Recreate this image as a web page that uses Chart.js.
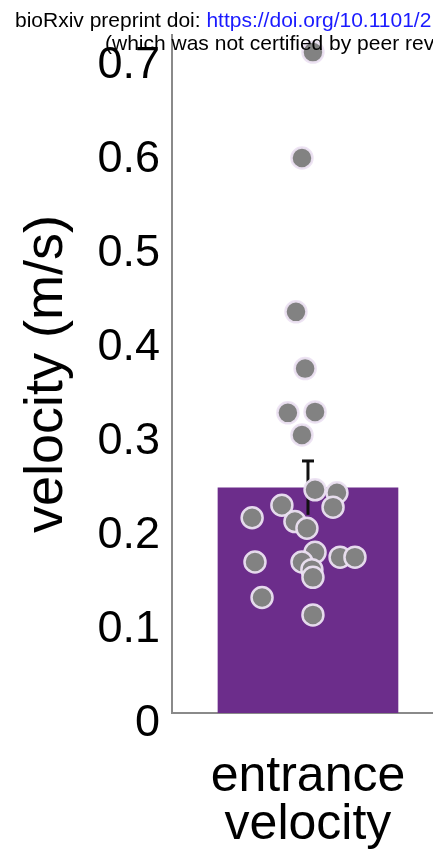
<!DOCTYPE html>
<html>
<head>
<meta charset="utf-8">
<script src="https://cdn.jsdelivr.net/npm/chart.js@4/dist/chart.umd.min.js"></script>
<style>
  html, body { margin: 0; padding: 0; background: #fff; overflow: hidden; }
  #wrap { position: relative; width: 433px; height: 853px; overflow: hidden; }
  .hdr { position: absolute; white-space: nowrap; font: 21px 'Liberation Sans', Arial, sans-serif; line-height: 21px; color: #000; z-index: 2; }
</style>
</head>
<body>
<div id="wrap">
  <canvas id="chart" width="433" height="853"></canvas>
  <div class="hdr" style="left:15px; top:9px;">bioRxiv preprint doi: <span style="color:#1a1aff">https://doi.org/10.1101/2</span></div>
  <div class="hdr" style="left:105px; top:32px;">(which was not certified by peer rev</div>
</div>
<script>
'use strict';

// ── Data ────────────────────────────────────────────────────────────────────
const CATEGORIES = [['entrance', 'velocity']];
const BAR_X      = [0.521];
const BAR_MEAN   = [0.234];
const BAR_SEM    = [0.028];

const DOT_X = [0.540, 0.498, 0.475, 0.510, 0.444, 0.548, 0.498, 0.548, 0.632, 0.617,
               0.421, 0.307, 0.471, 0.517, 0.548, 0.644, 0.701, 0.318, 0.498, 0.536,
               0.540, 0.345, 0.540];
const DOT_Y = [0.687, 0.577, 0.417, 0.358, 0.312, 0.313, 0.289, 0.232, 0.229, 0.214,
               0.216, 0.203, 0.199, 0.192, 0.167, 0.162, 0.162, 0.157, 0.157, 0.149,
               0.141, 0.120, 0.102];

const Y_TICKS = [0, 0.1, 0.2, 0.3, 0.4, 0.5, 0.6, 0.7];

const COLORS = {
  bar:     '#6c2d8b',
  dot:     '#828282',
  dotEdge: 'rgba(236,226,242,0.95)',
  err:     '#111111',
  axis:    '#8a8a8a',
  text:    '#000000',
};

const FONT = "'Liberation Sans', Arial, sans-serif";
Chart.defaults.font.family = FONT;
Chart.defaults.color = COLORS.text;

const CAP = 0.023;  // half cap width in x units

const dots = DOT_X.map((x, i) => ({ x, y: DOT_Y[i] }));
const bars = BAR_X.map((x, i) => ({ x, y: BAR_MEAN[i] }));
const errLine = [];
const errCap = [];
BAR_X.forEach((x, i) => {
  errLine.push({ x, y: BAR_MEAN[i] - BAR_SEM[i] }, { x, y: BAR_MEAN[i] + BAR_SEM[i] });
  errCap.push({ x: x - CAP, y: BAR_MEAN[i] + BAR_SEM[i] }, { x: x + CAP, y: BAR_MEAN[i] + BAR_SEM[i] });
});

new Chart(document.getElementById('chart').getContext('2d'), {
  type: 'bar',
  data: {
    datasets: [
      {
        type: 'scatter', data: dots, xAxisID: 'x', yAxisID: 'y', order: 1,
        pointRadius: 10.5, pointBackgroundColor: COLORS.dot,
        pointBorderColor: COLORS.dotEdge, pointBorderWidth: 2.5,
        clip: false,
      },
      {
        type: 'line', data: errLine, xAxisID: 'x', yAxisID: 'y', order: 2,
        borderColor: COLORS.err, borderWidth: 3, pointRadius: 0, fill: false,
      },
      {
        type: 'line', data: errCap, xAxisID: 'x', yAxisID: 'y', order: 2,
        borderColor: COLORS.err, borderWidth: 3, pointRadius: 0, fill: false,
      },
      {
        type: 'bar', data: bars, xAxisID: 'x', yAxisID: 'y', order: 3,
        backgroundColor: COLORS.bar, borderWidth: 0, barThickness: 180,
      },
    ],
  },
  options: {
    responsive: false,
    animation: false,
    layout: { autoPadding: false, padding: { top: 35, right: 0, bottom: 0, left: 0 } },
    plugins: { legend: { display: false }, tooltip: { enabled: false } },
    scales: {
      x: {
        type: 'linear', min: 0, max: 1, offset: false,
        grid: { display: false },
        border: { display: true, color: COLORS.axis, width: 2 },
        afterBuildTicks: scale => { scale.ticks = BAR_X.map(v => ({ value: v })); },
        afterFit: scale => {
          scale.height = 140;
          scale.paddingLeft = 0;
          scale.paddingRight = 0;
        },
        ticks: {
          autoSkip: false, maxRotation: 0, padding: 32,
          font: { size: 50, lineHeight: 0.96 }, color: COLORS.text,
          callback: (v, i) => CATEGORIES[i],
        },
      },
      y: {
        type: 'linear', display: false, min: 0, max: 0.7048,
      },
      yTicks: {
        type: 'linear', position: 'left', min: 0.0117, max: 0.733,
        grid: { display: false, drawTicks: false },
        border: { display: true, color: COLORS.axis, width: 2 },
        afterBuildTicks: scale => { scale.ticks = Y_TICKS.map(v => ({ value: v })); },
        afterFit: scale => {
          scale.width = 172;
          scale.paddingTop = 0;
          scale.paddingBottom = 0;
        },
        ticks: {
          padding: 12, font: { size: 45 }, color: COLORS.text,
          callback: v => (v === 0 ? '0' : v.toFixed(1)),
        },
        title: {
          display: true, text: 'velocity (m/s)', color: COLORS.text,
          font: { size: 54 }, padding: { top: 15, bottom: 0 },
        },
      },
    },
  },
});
</script>
</body>
</html>
